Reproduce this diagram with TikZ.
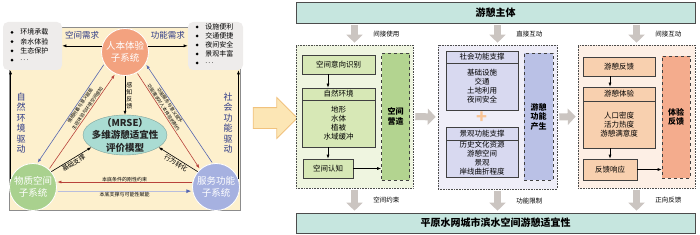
\documentclass[tikz,border=0pt]{standalone}
\usepackage{fontspec}
\setmainfont{Noto Sans CJK SC}
\usetikzlibrary{calc, arrows.meta, shapes.geometric, shapes.arrows}

\definecolor{panelbg}{HTML}{FDF0CD}
\definecolor{notebg}{HTML}{EEECEB}
\definecolor{humanc}{HTML}{F3A27F}
\definecolor{physc}{HTML}{A9D18E}
\definecolor{servc}{HTML}{A6B1E0}
\definecolor{evalc}{HTML}{AADCD3}
\definecolor{navy}{HTML}{2E3A87}
\definecolor{arrred}{HTML}{B8423A}
\definecolor{arrblue}{HTML}{5566B0}
\definecolor{arrpale}{HTML}{B9BEDD}
\definecolor{barc}{HTML}{C6E6DF}
\definecolor{fatgray}{HTML}{CBC5C1}
\definecolor{gfrm}{HTML}{EFF5E0}
\definecolor{gbox}{HTML}{D7E8B6}
\definecolor{gtall}{HTML}{B3D490}
\definecolor{pfrm}{HTML}{EFEEF8}
\definecolor{pbox}{HTML}{D8D9F0}
\definecolor{ptall}{HTML}{BAC1E6}
\definecolor{ofrm}{HTML}{FDEFE5}
\definecolor{obox}{HTML}{F8D0AF}
\definecolor{otall}{HTML}{F4AC8D}
\definecolor{yarrow}{HTML}{FCE6B5}
\definecolor{yedge}{HTML}{F1C27D}

\begin{document}
\begin{tikzpicture}[x=1pt, y=-1pt, line width=0.6pt,
  sub/.style={circle, minimum size=47pt, inner sep=0pt, draw=white, line width=0.8pt,
    text=white, align=center, font=\fontsize{9.5}{11.5}\selectfont},
  note/.style={rectangle, rounded corners=5pt, fill=notebg, minimum width=59pt, minimum height=48pt},
  item/.style={anchor=west, inner sep=0pt, font=\fontsize{7}{8}\selectfont},
  dot/.style={circle, fill=black, inner sep=0pt, minimum size=3pt},
  vtxt/.style={align=center, text=navy, inner sep=0pt, font=\fontsize{9}{10.5}\selectfont},
  smalllab/.style={inner sep=0pt, font=\fontsize{4.6}{5}\selectfont},
  arr/.style={-{Latex[length=4pt,width=3pt]}},
  redarr/.style={arr, draw=arrred, shorten <=1pt, shorten >=1pt},
  bluarr/.style={arr, draw=arrblue, shorten <=1pt, shorten >=1pt},
  bar/.style={rectangle, draw=black!70, fill=barc, minimum width=399pt, font=\fontsize{10}{12}\selectfont\bfseries},
  frm/.style={rectangle, draw=black!70, densely dotted, minimum width=117pt, minimum height=143pt},
  box/.style={rectangle, draw=black!75, inner sep=0.5pt, align=center, font=\fontsize{7.5}{9}\selectfont},
  tall/.style={box, dashed, minimum width=28pt, minimum height=127pt, font=\fontsize{8}{9.5}\selectfont\bfseries},
  fat/.style={line width=7pt, draw=fatgray, -{Triangle[length=8pt,width=16pt]}, shorten <=2pt, shorten >=2pt},
  lab/.style={anchor=west, xshift=12pt, font=\fontsize{6.5}{7}\selectfont}
]
  \useasboundingbox (0,0) rectangle (700,235);

  % left panel: subsystems
  \draw[black!45, fill=panelbg] (9,27) rectangle (240,210);
  \node[note] (lnote) at (32.5,46) {};
  \node[note, minimum width=55pt] (rnote) at (215.5,46) {};
  \foreach \t [count=\i] in {环境承载,亲水体验,生态保护,{.\,.\,.}}{
    \node[dot] (ld\i) at (12,{23+9.3*\i}) {};
    \node[item] (lt\i) at (20,{23+9.3*\i}) {\t};
  }
  \foreach \t [count=\i] in {设施便利,交通便捷,夜间安全,景观丰富,{.\,.\,.}}{
    \node[dot] (rd\i) at (197,{18+9*\i}) {};
    \node[item] (rt\i) at (205,{18+9*\i}) {\t};
  }

  \node[sub, fill=humanc] (human) at (125,52) {人本体验\\子系统};
  \node[sub, fill=physc] (phys) at (33,187) {物质空间\\子系统};
  \node[sub, fill=servc] (serv) at (216,187) {服务功能\\子系统};
  \node[ellipse, fill=evalc, draw=evalc!75!black, line width=0.4pt, minimum width=84pt, minimum height=40pt] (eval) at (125,135) {};
  \node[align=center, inner sep=0pt, font=\fontsize{9.5}{12.5}\selectfont\bfseries, text=black!85] (evaltxt) at (eval) {（MRSE）\\多维游憩适宜性\\评价模型};

  \draw[arr] (human.165) -- (human.165 -| lnote.east)
    node[midway, above=3pt, text=navy, font=\fontsize{8.5}{9}\selectfont] (needsp) {空间需求};
  \draw[arr] (human.15) -- (human.15 -| rnote.west)
    node[midway, above=3pt, text=navy, font=\fontsize{8.5}{9}\selectfont] (needfn) {功能需求};
  \node[vtxt] (natdrv) at (21,123) {自\\然\\环\\境\\驱\\动};
  \node[vtxt] (socdrv) at (228,123) {社\\会\\功\\能\\驱\\动};
  \draw[arr] (phys.160) -- (phys.160 |- lnote.south);
  \draw[arr] (serv.20) -- (serv.20 |- rnote.south);

  \draw[arr] (human) -- (eval)
    node[midway, right=1pt, align=center, inner sep=0pt, font=\fontsize{6}{7}\selectfont] (feel) {感\\知\\反\\馈};
  \draw[bluarr] (human.210) -- (phys.80) node[pos=0.4, sloped, below=0.8pt, smalllab] (lab1) {情感附着与意义赋能};
  \draw[redarr] (phys.48) -- (human.246) node[pos=0.62, sloped, above=0.8pt, smalllab] (lab2) {主观体验与环境空间感知};
  \draw[redarr] (human.300) -- (serv.132) node[pos=0.38, sloped, above=0.8pt, smalllab] (lab3) {功能需求对人本体验的制约};
  \draw[bluarr] (serv.98) -- (human.330) node[pos=0.6, sloped, below=0.8pt, smalllab] (lab4) {功能服务与意义赋予};
  \draw[redarr] (serv.168) -- (phys.12) node[midway, above, smalllab, font=\fontsize{5}{5}\selectfont] (lab5) {本底条件的刚性约束};
  \draw[-{Latex[length=5pt,width=4pt,color=arrblue]}, draw=arrpale, line width=1pt, shorten <=1pt, shorten >=1pt]
    (phys.350) -- (serv.190) node[midway, below=1pt, smalllab, font=\fontsize{5}{5}\selectfont] (lab6) {本底支撑与可能性赋能};
  \draw[arr] (phys.40) -- (eval.200) node[midway, sloped, below, inner sep=1pt, font=\fontsize{6.5}{7}\selectfont] (base) {基础支撑};
  \draw[arr] (serv.140) -- (eval.340) node[midway, sloped, below, inner sep=1pt, font=\fontsize{6.5}{7}\selectfont] (act) {行为转化};

  % transition
  \node[single arrow, fill=yarrow, draw=yedge, line width=0.8pt, minimum height=44pt,
    single arrow head extend=10pt, inner sep=0pt] (pass) at (270,118) {\rule{0pt}{20pt}};

  % right panel: interaction framework
  \node[bar, minimum height=21pt] (subj) at (495.5,12.5) {游憩主体};
  \node[bar, minimum height=20pt] (suit) at (495.5,223) {平原水网城市滨水空间游憩适宜性};
  \node[frm, fill=gfrm] (f1) at (354.5,116.5) {};
  \node[frm, fill=pfrm, minimum width=119pt, minimum height=144pt] (f2) at (497.5,117) {};
  \node[frm, fill=ofrm] (f3) at (636.5,116.5) {};

  % column 1
  \node[box, fill=gbox, minimum width=73pt, minimum height=19pt] (intent) at (338.5,64.5) {空间意向识别};
  \node[box, fill=gbox, minimum width=73pt, minimum height=12pt] (nath) at (338.5,94) {自然环境};
  \node[box, fill=gbox, minimum width=73pt, minimum height=47pt] (natc) at (338.5,123.5) {地形\\水体\\植被\\水域缓冲};
  \node[box, fill=gbox, minimum width=50pt, minimum height=19pt] (cog) at (328,168.5) {空间认知};
  \node[tall, fill=gtall] (build) at (395.5,116.5) {空间\\营造};
  \draw[arr] (cog.north |- intent.south) -- (cog.north |- nath.north);
  \draw[arr] (cog.north |- natc.south) -- (cog.north);
  \draw[arr] (cog.east) -- (cog.east -| build.west);

  % column 2
  \node[box, fill=pbox, minimum width=72pt, minimum height=12pt] (soch) at (482,57) {社会功能支撑};
  \node[box, fill=pbox, minimum width=72pt, minimum height=47pt] (socc) at (482,86.5) {基础设施\\交通\\土地利用\\夜间安全};
  \node[text=obox!85!orange, inner sep=0pt, font=\fontsize{18}{18}\selectfont\bfseries] (plus) at (482,118) {+};
  \node[box, fill=pbox, minimum width=72pt, minimum height=13pt] (lanh) at (482,133.5) {景观功能支撑};
  \node[box, fill=pbox, minimum width=72pt, minimum height=37pt] (lanc) at (482,158.5) {历史文化资源\\游憩空间\\景观\\岸线曲折程度};
  \node[tall, fill=ptall, minimum width=29pt] (func) at (538.5,116.5) {游憩\\功能\\产生};

  % column 3
  \node[box, fill=obox, minimum width=72pt, minimum height=19pt] (rfb) at (619,66.5) {游憩反馈};
  \node[box, fill=obox, minimum width=72pt, minimum height=14pt] (exph) at (619,94) {游憩体验};
  \node[box, fill=obox, minimum width=72pt, minimum height=47pt] (expc) at (619,124.5) {人口密度\\活力热度\\游憩满意度};
  \node[box, fill=obox, minimum width=54pt, minimum height=21pt] (resp) at (610,169.5) {反馈响应};
  \node[tall, fill=otall, minimum height=122pt] (expfb) at (676,117) {体验\\反馈};
  \draw[arr] (resp.north |- rfb.south) -- (resp.north |- exph.north);
  \draw[arr] (resp.north |- expc.south) -- (resp.north);
  \draw[arr] (resp.east) -- (resp.east -| expfb.west);

  % flows between blocks
  \draw[fat] (f1.north |- subj.south) -- (f1.north) node[midway, lab] (u1) {间接使用};
  \draw[fat] (f2.north |- subj.south) -- (f2.north) node[midway, lab] (u2) {直接互动};
  \draw[fat] (f3.north |- subj.south) -- (f3.north) node[midway, lab] (u3) {间接互动};
  \draw[fat] (f1.south) -- (f1.south |- suit.north) node[midway, lab] (d1) {空间约束};
  \draw[fat] (f2.south) -- (f2.south |- suit.north) node[midway, lab] (d2) {功能限制};
  \draw[fat] (f3.south) -- (f3.south |- suit.north) node[midway, lab] (d3) {正向反馈};
  \draw[fat] (f1.east) -- (f2.west);
  \draw[fat] (f2.east) -- (f3.west);
\end{tikzpicture}
\end{document}
